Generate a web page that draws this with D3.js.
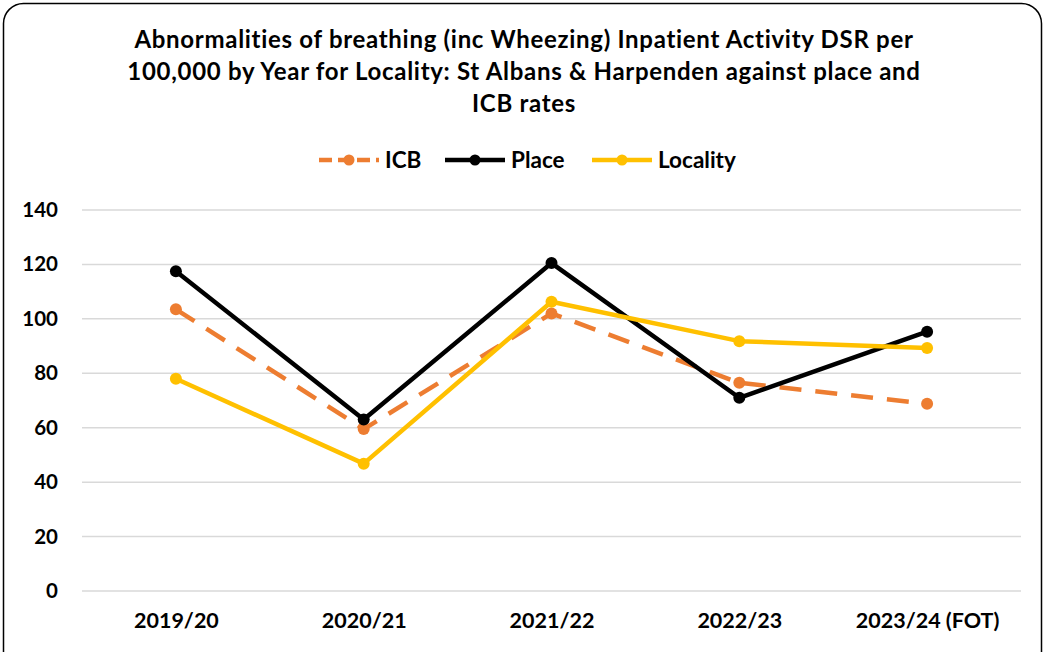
<!DOCTYPE html>
<meta charset="utf-8">
<script src="https://d3js.org/d3.v7.min.js"></script>
<style>
  body { margin: 0; background: #fff; }
  text { font-family: Lato, "Open Sans", sans-serif; font-weight: bold; }
</style>
<div id="chart"></div>
<script>
  // data
  var years = ["2019/20", "2020/21", "2021/22", "2022/23", "2023/24 (FOT)"];
  var icb = [103.5, 59.5, 102, 76.5, 68.8];
  var place = [117.5, 63, 120.5, 71, 95.3];
  var locality = [78, 46.8, 106.3, 91.8, 89.3];
  var yTicks = [0, 20, 40, 60, 80, 100, 120, 140];
  var titleLines = [
    "Abnormalities of breathing (inc Wheezing) Inpatient Activity DSR per",
    "100,000 by Year for Locality: St Albans & Harpenden against place and",
    "ICB rates"
  ];

  var W = 1045, H = 652;
  var margin = {top: 210, right: 24, bottom: 61, left: 82},
      width = W - margin.left - margin.right,
      height = H - margin.top - margin.bottom;

  var svg = d3.select("#chart").append("svg")
    .attr("width", W).attr("height", H);

  // outer frame
  svg.append("rect")
    .attr("x", 3.5).attr("y", 3.5)
    .attr("width", W - 7).attr("height", H + 20)
    .attr("rx", 20).attr("ry", 20)
    .attr("fill", "#fff").attr("stroke", "#000").attr("stroke-width", 1.5);

  // title
  svg.append("g").selectAll("text")
    .data(titleLines).enter().append("text")
      .attr("x", 524).attr("y", function(d, i){ return 48 + i * 32; })
      .attr("text-anchor", "middle")
      .attr("font-size", 24)
      .attr("letter-spacing", 0.7)
      .attr("fill", "#000")
      .text(function(d){ return d; });

  var g = svg.append("g")
    .attr("transform", "translate(" + margin.left + "," + margin.top + ")");

  var x = d3.scalePoint().domain(years).range([0, width]).padding(0.5);
  var y = d3.scaleLinear().domain([0, 140]).range([height, 0]);

  // gridlines
  g.append("g").selectAll("line")
    .data(yTicks).enter().append("line")
      .attr("x1", 0).attr("x2", width)
      .attr("y1", function(d){ return y(d); })
      .attr("y2", function(d){ return y(d); })
      .attr("stroke", "#d9d9d9").attr("stroke-width", 1.5);

  // y axis labels
  var yAxis = g.append("g")
    .call(d3.axisLeft(y).tickValues(yTicks).tickSize(0).tickPadding(24));
  yAxis.select(".domain").remove();
  yAxis.selectAll("text").attr("font-size", 20.5).attr("fill", "#000")
    .attr("font-family", "Lato, sans-serif").attr("font-weight", "bold");

  // x axis labels
  var xAxis = g.append("g")
    .attr("transform", "translate(0," + height + ")")
    .call(d3.axisBottom(x).tickSize(0).tickPadding(22));
  xAxis.select(".domain").remove();
  xAxis.selectAll("text").attr("font-size", 21.5).attr("fill", "#000")
    .attr("font-family", "Lato, sans-serif").attr("font-weight", "bold");

  var series = [
    {name: "ICB", values: icb, color: "#ed7d31", dash: "22,14"},
    {name: "Place", values: place, color: "#000000", dash: null},
    {name: "Locality", values: locality, color: "#ffc000", dash: null}
  ];

  var line = d3.line()
    .x(function(d, i){ return x(years[i]); })
    .y(function(d){ return y(d); });

  // draw in order: ICB, Place, Locality on top
  series.forEach(function(s){
    g.append("path")
      .datum(s.values)
      .attr("d", line)
      .attr("fill", "none")
      .attr("stroke", s.color)
      .attr("stroke-width", 4.5)
      .attr("stroke-dasharray", s.dash)
      .attr("stroke-linejoin", "round");
    g.append("g").selectAll("circle")
      .data(s.values).enter().append("circle")
        .attr("cx", function(d, i){ return x(years[i]); })
        .attr("cy", function(d){ return y(d); })
        .attr("r", 6)
        .attr("fill", s.color);
  });

  // legend
  var legendX = [319, 445, 592];
  var leg = svg.append("g").selectAll("g")
    .data(series).enter().append("g")
      .attr("transform", function(d, i){ return "translate(" + legendX[i] + ",160)"; });
  leg.append("line")
    .attr("x1", 0).attr("x2", 60).attr("y1", 0).attr("y2", 0)
    .attr("stroke", function(d){ return d.color; })
    .attr("stroke-width", 4.5)
    .attr("stroke-dasharray", function(d){ return d.dash ? "13,6" : null; });
  leg.append("circle")
    .attr("cx", 30).attr("cy", 0).attr("r", 5.5)
    .attr("fill", function(d){ return d.color; });
  leg.append("text")
    .attr("x", 66).attr("y", 8)
    .attr("font-size", 22.5).attr("fill", "#000")
    .text(function(d){ return d.name; });
</script>
